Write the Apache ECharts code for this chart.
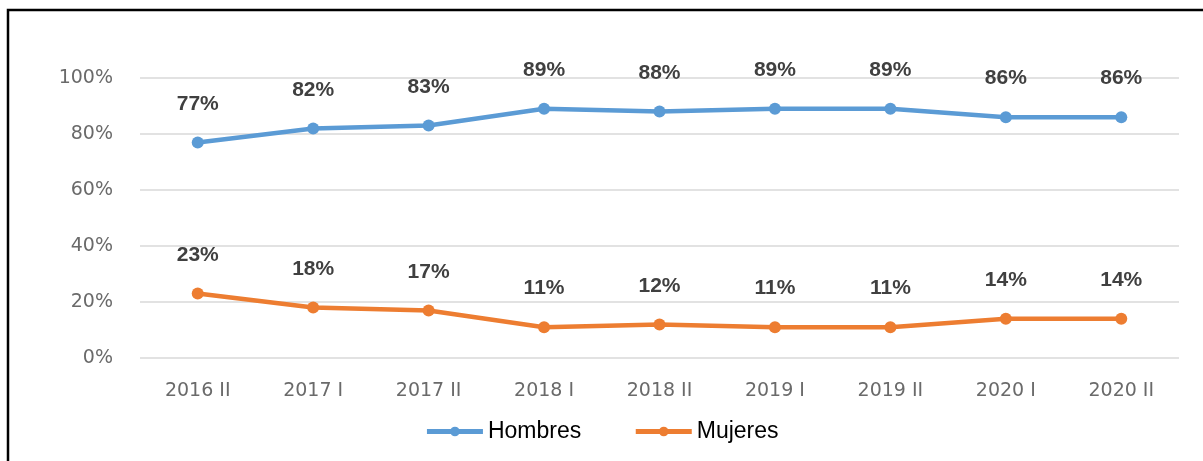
<!DOCTYPE html>
<html lang="es">
<head>
  <meta charset="UTF-8">
  <title>Hombres y Mujeres</title>
  <script src="https://cdn.jsdelivr.net/npm/echarts@6/dist/echarts.min.js"></script>
  <style>
    html, body { margin: 0; padding: 0; background: #fff; }
  </style>
</head>
<body>

  <div id="main" style="width: 1203px;height:461px;"></div>

  <script type="text/javascript">
    // Periods on the x axis
    const periods = ['2016 II', '2017 I', '2017 II', '2018 I', '2018 II', '2019 I', '2019 II', '2020 I', '2020 II'];

    // Shares in percent
    const hombres = [77, 82, 83, 89, 88, 89, 89, 86, 86];
    const mujeres = [23, 18, 17, 11, 12, 11, 11, 14, 14];

    let myChart = echarts.init(document.getElementById('main'));

    const labelStyle = {
      show: true,
      position: 'top',
      distance: 22,
      formatter: p => p.value + '%',
      color: '#404040',
      fontSize: 21,
      fontWeight: 'bold',
      fontFamily: 'Liberation Sans'
    };

    let options = {
      animation: false,
      // black frame (only left and top edges are visible)
      graphic: [{
        type: 'rect',
        shape: { x: 8, y: 10, width: 1400, height: 600 },
        style: { fill: 'none', stroke: '#000', lineWidth: 2.5 }
      }],
      grid: { left: 140, right: 24, top: 78, bottom: 103 },
      legend: {
        bottom: 13,
        left: 'center',
        itemWidth: 56,
        itemHeight: 12,
        itemGap: 52,
        lineStyle: { width: 5 },
        textStyle: { color: '#000', fontSize: 23, fontFamily: 'Liberation Sans' },
        data: ['Hombres', 'Mujeres']
      },
      xAxis: {
        type: 'category',
        data: periods,
        axisLine: { show: false },
        axisTick: { show: false },
        axisLabel: { color: '#6a6a6a', fontSize: 19, margin: 24, fontFamily: 'DejaVu Sans' }
      },
      yAxis: {
        type: 'value',
        min: 0,
        max: 100,
        interval: 20,
        axisLabel: { formatter: '{value}%', color: '#6a6a6a', fontSize: 19, margin: 27, fontFamily: 'DejaVu Sans' },
        splitLine: { lineStyle: { color: '#d9d9d9', width: 1.5 } }
      },
      series: [{
        name: 'Hombres',
        type: 'line',
        data: hombres,
        symbol: 'circle',
        symbolSize: 12,
        color: '#5b9bd5',
        lineStyle: { width: 4.5 },
        label: labelStyle
      }, {
        name: 'Mujeres',
        type: 'line',
        data: mujeres,
        symbol: 'circle',
        symbolSize: 12,
        color: '#ed7d31',
        lineStyle: { width: 4.5 },
        label: labelStyle
      }]
    };

    myChart.setOption(options);
  </script>
</body>
</html>
